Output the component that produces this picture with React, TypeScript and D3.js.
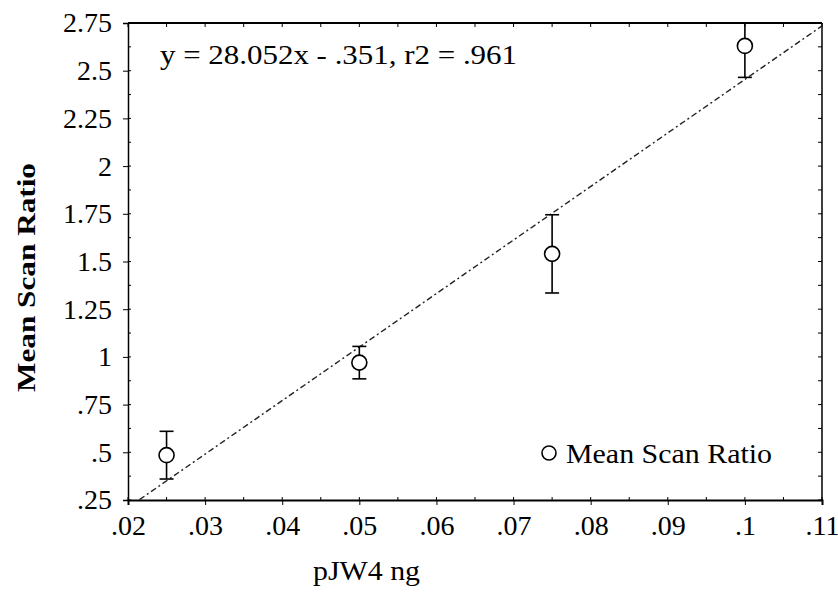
import { useEffect, useRef } from "react";
import * as d3 from "d3";

// pJW4 amount (ng) vs mean scan ratio
const doses = [0.025, 0.05, 0.075, 0.1];
const meanRatio = [0.485, 0.97, 1.54, 2.63];
const errRatio = [0.125, 0.085, 0.205, 0.165];

const xTicks = [0.02, 0.03, 0.04, 0.05, 0.06, 0.07, 0.08, 0.09, 0.1, 0.11];
const yTicks = [0.25, 0.5, 0.75, 1, 1.25, 1.5, 1.75, 2, 2.25, 2.5, 2.75];

const fitSlope = 28.052;
const fitIntercept = -0.351;
const fitLabel = "y = 28.052x - .351, r2 = .961";
const seriesName = "Mean Scan Ratio";
const xTitle = "pJW4 ng";
const yTitle = "Mean Scan Ratio";

const fmt = (v) => String(+v.toFixed(3)).replace(/^0\./, ".");

export default function App() {
  const svgRef = useRef();

  useEffect(() => {
    const width = 838;
    const height = 597;
    const marginTop = 23;
    const marginRight = 16;
    const marginBottom = 97;
    const marginLeft = 128;
    const font = "'Liberation Serif', 'Times New Roman', serif";

    const x = d3.scaleLinear()
      .domain([0.02, 0.11])
      .range([marginLeft, width - marginRight]);

    const y = d3.scaleLinear()
      .domain([0.25, 2.75])
      .range([height - marginBottom, marginTop]);

    const svg = d3.select(svgRef.current)
      .attr("width", width)
      .attr("height", height)
      .attr("viewBox", [0, 0, width, height])
      .style("position", "absolute")
      .style("left", "0px")
      .style("top", "0px")
      .style("background", "#fff");

    svg.selectAll("*").remove();

    svg.append("defs").append("clipPath")
      .attr("id", "plot-clip")
      .append("rect")
      .attr("x", marginLeft)
      .attr("y", marginTop)
      .attr("width", width - marginLeft - marginRight)
      .attr("height", height - marginTop - marginBottom);

    const x0 = marginLeft, x1 = width - marginRight;
    const y0 = height - marginBottom, y1 = marginTop;

    // minor positions
    const xMinor = d3.range(0, 19).map(i => 0.02 + i * 0.005);
    const yMinor = d3.range(0, 21).map(i => 0.25 + i * 0.125);

    // bottom axis
    const bottom = svg.append("g")
      .attr("transform", `translate(0,${y0})`)
      .call(d3.axisBottom(x).tickValues(xTicks).tickFormat(fmt).tickSize(5).tickPadding(10));
    bottom.select(".domain").attr("stroke-width", 2);
    bottom.selectAll("text").attr("font-family", font).attr("font-size", 28).attr("fill", "#000");

    svg.append("g").selectAll("line")
      .data(xMinor)
      .join("line")
      .attr("x1", d => x(d)).attr("x2", d => x(d))
      .attr("y1", y0).attr("y2", y0 - 3)
      .attr("stroke", "#000");

    // left axis
    const left = svg.append("g")
      .attr("transform", `translate(${x0},0)`)
      .call(d3.axisLeft(y).tickValues(yTicks).tickFormat(fmt).tickSize(5).tickPadding(11));
    left.select(".domain").attr("stroke-width", 1.5);
    left.selectAll("text").attr("font-family", font).attr("font-size", 28).attr("fill", "#000");

    svg.append("g").selectAll("line")
      .data(yMinor)
      .join("line")
      .attr("x1", x0).attr("x2", x0 + 3)
      .attr("y1", d => y(d)).attr("y2", d => y(d))
      .attr("stroke", "#000");

    // top and right frame with inward ticks
    svg.append("line")
      .attr("x1", x0).attr("x2", x1).attr("y1", y1).attr("y2", y1)
      .attr("stroke", "#000").attr("stroke-width", 2);
    svg.append("g").selectAll("line")
      .data(xMinor)
      .join("line")
      .attr("x1", d => x(d)).attr("x2", d => x(d))
      .attr("y1", y1).attr("y2", y1 + 4)
      .attr("stroke", "#000");

    svg.append("line")
      .attr("x1", x1).attr("x2", x1).attr("y1", y1).attr("y2", y0)
      .attr("stroke", "#000").attr("stroke-width", 1.5);
    svg.append("g").selectAll("line")
      .data(yMinor)
      .join("line")
      .attr("x1", x1).attr("x2", x1 - 4)
      .attr("y1", d => y(d)).attr("y2", d => y(d))
      .attr("stroke", "#000");

    const plot = svg.append("g").attr("clip-path", "url(#plot-clip)");

    // regression line
    const fitLine = d3.line()
      .x(d => x(d))
      .y(d => y(fitSlope * d + fitIntercept));
    plot.append("path")
      .attr("d", fitLine(x.domain()))
      .attr("fill", "none")
      .attr("stroke", "#222")
      .attr("stroke-width", 1.4)
      .attr("stroke-dasharray", "6,3,2,3");

    const pts = doses.map((d, i) => ({ d, m: meanRatio[i], e: errRatio[i] }));

    // error bars
    const bars = plot.append("g").attr("stroke", "#000").attr("stroke-width", 1.6);
    bars.selectAll("line.v")
      .data(pts)
      .join("line")
      .attr("class", "v")
      .attr("x1", p => x(p.d)).attr("x2", p => x(p.d))
      .attr("y1", p => y(p.m - p.e)).attr("y2", p => y(p.m + p.e));
    bars.selectAll("line.hi")
      .data(pts)
      .join("line")
      .attr("class", "hi")
      .attr("x1", p => x(p.d) - 7).attr("x2", p => x(p.d) + 7)
      .attr("y1", p => y(p.m + p.e)).attr("y2", p => y(p.m + p.e));
    bars.selectAll("line.lo")
      .data(pts)
      .join("line")
      .attr("class", "lo")
      .attr("x1", p => x(p.d) - 7).attr("x2", p => x(p.d) + 7)
      .attr("y1", p => y(p.m - p.e)).attr("y2", p => y(p.m - p.e));

    plot.append("g").selectAll("circle")
      .data(pts)
      .join("circle")
      .attr("cx", p => x(p.d))
      .attr("cy", p => y(p.m))
      .attr("r", 7.5)
      .attr("fill", "#fff")
      .attr("stroke", "#000")
      .attr("stroke-width", 1.6);

    // equation
    svg.append("text")
      .attr("x", 160)
      .attr("y", 64)
      .attr("font-family", font)
      .attr("font-size", 28)
      .attr("textLength", 357)
      .attr("lengthAdjust", "spacingAndGlyphs")
      .attr("fill", "#000")
      .text(fitLabel);

    // legend
    svg.append("circle")
      .attr("cx", 549).attr("cy", 453).attr("r", 7)
      .attr("fill", "#fff").attr("stroke", "#000").attr("stroke-width", 1.6);
    svg.append("text")
      .attr("x", 566)
      .attr("y", 463)
      .attr("font-family", font)
      .attr("font-size", 28)
      .attr("textLength", 206)
      .attr("lengthAdjust", "spacingAndGlyphs")
      .attr("fill", "#000")
      .text(seriesName);

    // axis titles
    svg.append("text")
      .attr("x", 313)
      .attr("y", 580)
      .attr("font-family", font)
      .attr("font-size", 28)
      .attr("textLength", 107)
      .attr("lengthAdjust", "spacingAndGlyphs")
      .attr("fill", "#000")
      .text(xTitle);

    svg.append("text")
      .attr("transform", `translate(35,392) rotate(-90)`)
      .attr("font-family", font)
      .attr("font-weight", "bold")
      .attr("font-size", 26)
      .attr("textLength", 229)
      .attr("lengthAdjust", "spacingAndGlyphs")
      .attr("fill", "#000")
      .text(yTitle);
  }, []);

  return <svg ref={svgRef}></svg>;
}
